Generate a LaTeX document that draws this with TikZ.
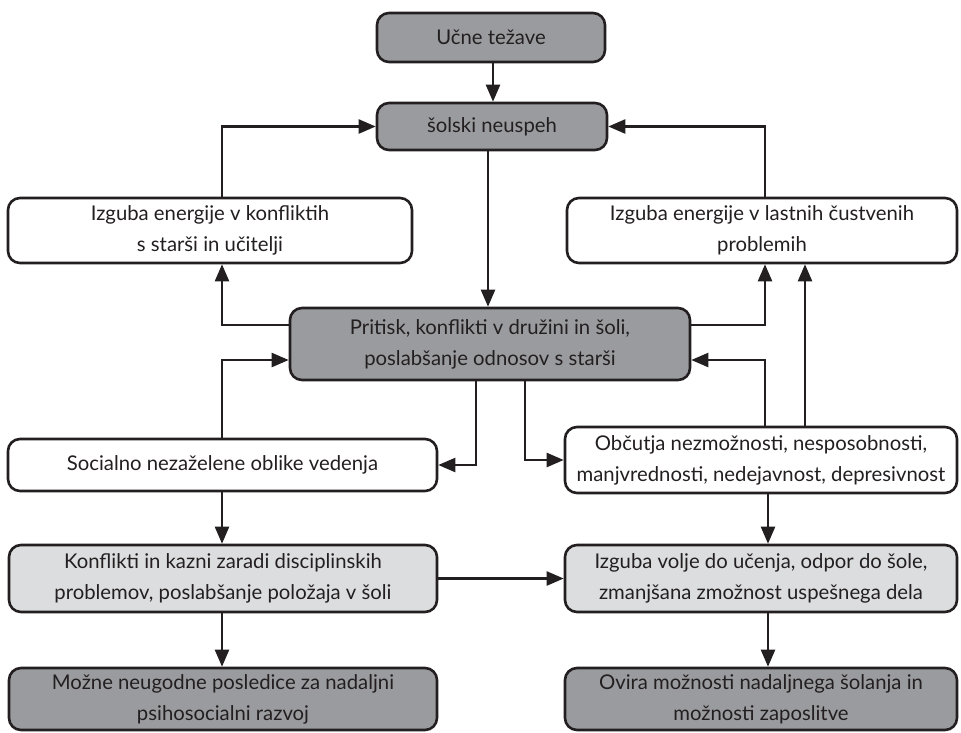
\documentclass[tikz,border=0pt]{standalone}
\usepackage{fontspec}
\setmainfont{Lato}
\usetikzlibrary{arrows.meta,calc}
\definecolor{darkbox}{HTML}{9A9B9E}
\definecolor{lightbox}{HTML}{DCDDDE}
\definecolor{ink}{HTML}{231F20}
\begin{document}
\begin{tikzpicture}[x=1pt,y=-1pt,
  box/.style={draw=ink,line width=2.6pt,rounded corners=12pt,align=center,inner sep=0pt,
    text=ink,font=\fontsize{20.3}{31}\selectfont},
  darkb/.style={box,fill=darkbox},
  lightb/.style={box,fill=lightbox},
  whiteb/.style={box,fill=white},
  arr/.style={draw=ink,line width=2.3pt,-{Triangle[length=17pt,width=14pt]}}]
\useasboundingbox (0,0) rectangle (961,732);
\node[darkb,minimum width=228pt,minimum height=49pt] (ucne) at (491,37.5) {Učne težave};
\node[darkb,minimum width=230pt,minimum height=47pt] (solski) at (492,126.5) {šolski neuspeh};
\node[whiteb,minimum width=404pt,minimum height=65pt] (izgL) at (210,230.5) {Izguba energije v konfliktih\\s starši in učitelji};
\node[whiteb,minimum width=390pt,minimum height=65pt] (izgR) at (762,230.5) {Izguba energije v lastnih čustvenih\\problemih};
\node[darkb,minimum width=400pt,minimum height=72pt] (pritisk) at (490,344) {Pritisk, konflikti v družini in šoli,\\poslabšanje odnosov s starši};
\node[whiteb,minimum width=429pt,minimum height=52pt] (soc) at (222.5,465) {Socialno nezaželene oblike vedenja};
\node[whiteb,minimum width=392pt,minimum height=66pt] (obc) at (761,460) {Občutja nezmožnosti, nesposobnosti,\\manjvrednosti, nedejavnost, depresivnost};
\node[lightb,minimum width=428pt,minimum height=67pt] (konf) at (223,578.5) {Konflikti in kazni zaradi disciplinskih\\problemov, poslabšanje položaja v šoli};
\node[lightb,minimum width=392pt,minimum height=67pt] (izgV) at (761,578.5) {Izguba volje do učenja, odpor do šole,\\zmanjšana zmožnost uspešnega dela};
\node[darkb,minimum width=428pt,minimum height=62pt] (mozne) at (223,699) {Možne neugodne posledice za nadaljni\\psihosocialni razvoj};
\node[darkb,minimum width=392pt,minimum height=62pt] (ovira) at (761,699) {Ovira možnosti nadaljnega šolanja in\\možnosti zaposlitve};
\coordinate (xl) at (222,0);
\coordinate (xr1) at (765,0);
\coordinate (xr2) at (805,0);
\coordinate (xr3) at (768,0);
\coordinate (xa) at (476,0);
\coordinate (xb) at (525,0);
\coordinate (xm) at (488,0);
\coordinate (xt) at (493,0);
\coordinate (yA) at (0,325);
\coordinate (yB) at (0,360);
\draw[arr] (ucne.south -| xt) -- (solski.north -| xt);
\draw[arr] (solski.south -| xm) -- (pritisk.north -| xm);
\draw[arr] (izgL.north -| xl) |- (solski.west);
\draw[arr] (izgR.north -| xr1) |- (solski.east);
\draw[arr] (pritisk.west |- yA) -| (izgL.south -| xl);
\draw[arr] (pritisk.east |- yA) -| (izgR.south -| xr1);
\draw[arr] (soc.north -| xl) |- (pritisk.west |- yB);
\draw[arr] (obc.north -| xr1) |- (pritisk.east |- yB);
\draw[arr] (obc.north -| xr2) -- (izgR.south -| xr2);
\draw[arr] (pritisk.south -| xa) |- (soc.east);
\draw[arr] (pritisk.south -| xb) |- (obc.west);
\draw[arr] (soc.south -| xl) -- (konf.north -| xl);
\draw[arr] (konf.south -| xl) -- (mozne.north -| xl);
\draw[arr] (konf.east) -- (izgV.west);
\draw[arr] (obc.south -| xr3) -- (izgV.north -| xr3);
\draw[arr] (izgV.south -| xr3) -- (ovira.north -| xr3);
\end{tikzpicture}
\end{document}
